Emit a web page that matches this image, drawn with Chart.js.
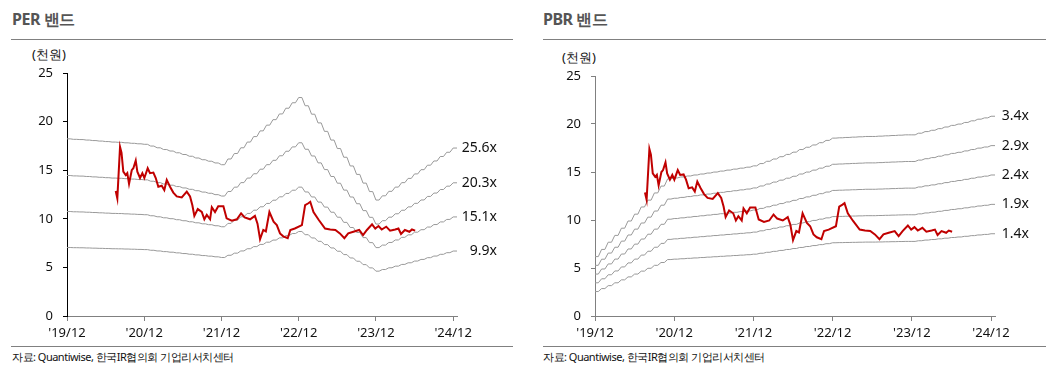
<!DOCTYPE html>
<html lang="ko">
<head>
  <meta charset="UTF-8">
  <title>PER / PBR 밴드</title>
  <script src="https://cdn.jsdelivr.net/npm/chart.js"></script>
  <style>
    body { margin: 0; background: #fff; font-family: "Noto Sans", sans-serif; }
    #page { position: relative; width: 1050px; height: 384px; overflow: hidden; }
    .title { position: absolute; top: 8px; font-size: 16px; font-weight: bold; color: #555; letter-spacing: -0.5px; }
    .rule { position: absolute; height: 1px; background: #808080; }
    .unit { position: absolute; font-size: 13px; color: #111; }
    .src { position: absolute; top: 349px; font-size: 11px; color: #111; letter-spacing: -0.5px; }
    .box { position: absolute; top: 45px; height: 300px; }
  </style>
</head>
<body>
<div id="page">
  <div class="title" style="left:12px">PER 밴드</div>
  <div class="rule" style="left:11px; top:39px; width:502px"></div>
  <div class="unit" style="left:32px; top:45px">(천원)</div>
  <div class="box" style="left:0; width:515px"><canvas id="perChart"></canvas></div>
  <div class="rule" style="left:11px; top:346px; width:502px"></div>
  <div class="src" style="left:12px">자료: Quantiwise, 한국IR협의회 기업리서치센터</div>

  <div class="title" style="left:543px">PBR 밴드</div>
  <div class="rule" style="left:543px; top:39px; width:503px"></div>
  <div class="unit" style="left:562px; top:48px">(천원)</div>
  <div class="box" style="left:530px; width:520px"><canvas id="pbrChart"></canvas></div>
  <div class="rule" style="left:543px; top:346px; width:503px"></div>
  <div class="src" style="left:543px">자료: Quantiwise, 한국IR협의회 기업리서치센터</div>
</div>

<script>
  // x = months since 2019/12
  const xTickMonths = [0, 12, 24, 36, 48, 60];
  const xTickLabels = ["'19/12", "'20/12", "'21/12", "'22/12", "'23/12", "'24/12"];

  const perMultiples = [25.6, 20.3, 15.1, 9.9];
  const pbrMultiples = [3.4, 2.9, 2.4, 1.9, 1.4];

  // monthly EPS / BPS (천원), '19/12 ~ '24/12
  const epsMonthly = [
    0.712, 0.710, 0.709, 0.707, 0.705, 0.703, 0.701, 0.699, 0.698, 0.696, 0.694, 0.692, 0.690,
    0.683, 0.676, 0.669, 0.663, 0.656, 0.649, 0.642, 0.635, 0.628, 0.622, 0.615, 0.608,
    0.631, 0.653, 0.676, 0.699, 0.721, 0.744, 0.767, 0.789, 0.812, 0.835, 0.857, 0.878,
    0.845, 0.811, 0.776, 0.742, 0.707, 0.673, 0.638, 0.603, 0.569, 0.534, 0.500, 0.466,
    0.483, 0.501, 0.518, 0.536, 0.553, 0.571, 0.588, 0.606, 0.623, 0.641, 0.658, 0.675
  ];
  const bpsMonthly = [
    1.82, 2.04, 2.26, 2.47, 2.69, 2.91, 3.12, 3.34, 3.55, 3.77, 3.98, 4.20,
    4.23, 4.26, 4.29, 4.32, 4.35, 4.38, 4.41, 4.44, 4.47, 4.50, 4.53, 4.56, 4.60,
    4.67, 4.74, 4.81, 4.88, 4.95, 5.02, 5.10, 5.17, 5.24, 5.31, 5.38, 5.45,
    5.46, 5.47, 5.48, 5.49, 5.50, 5.50, 5.51, 5.52, 5.53, 5.54, 5.55, 5.55,
    5.60, 5.65, 5.69, 5.74, 5.79, 5.84, 5.88, 5.93, 5.98, 6.03, 6.07, 6.12
  ];

  // 주가 (천원)
  const priceMonths = [
    7.57, 7.82, 8.24, 8.47, 8.75, 9.12, 9.37, 9.64, 10.06, 10.31, 10.68, 10.93, 11.35, 11.71, 12.02,
    12.54, 12.9, 13.42, 13.79, 14.19, 14.72, 15.12, 15.5, 16.01, 16.52, 17.05, 17.83, 18.61, 19.12,
    19.48, 19.79, 20.32, 20.94, 21.34, 21.72, 22.23, 22.5, 23.0, 23.5, 24.3, 24.8, 25.6, 26.4, 27.05,
    27.6, 28.45, 29.2, 29.6, 30.0, 30.5, 30.9, 31.45, 32.1, 32.6, 33.1, 33.6, 34.3, 34.7, 35.4, 36.5,
    37.0, 37.5, 37.8, 38.3, 39.1, 40.1, 40.9, 41.7, 42.4, 43.1, 43.7, 44.5, 45.4, 46.0, 46.6, 47.4,
    47.9, 48.4, 48.9, 49.6, 50.2, 51.0, 51.5, 51.9, 52.5, 53.2, 53.6, 54.1
  ];
  const priceValues = [
    12.86, 12.1, 17.4, 16.8, 14.85, 14.5, 14.7, 13.6, 15.0, 15.2, 16.0, 14.85, 14.2, 14.7, 14.2,
    15.2, 14.7, 14.75, 14.2, 13.3, 13.4, 12.96, 14.0, 13.3, 12.7, 12.3, 12.2, 12.8, 12.3,
    11.4, 10.3, 11.0, 10.7, 9.95, 10.4, 9.95, 11.2, 10.7, 11.3, 11.3, 10.05, 9.8, 9.95, 10.57,
    10.15, 9.95, 10.3, 9.5, 7.9, 8.85, 8.7, 10.7, 9.7, 9.35, 8.5, 8.2, 8.0, 8.85, 9.0, 9.35,
    11.4, 11.6, 11.75, 10.7, 9.9, 9.0, 8.9, 8.85, 8.5, 8.0, 8.5, 8.67, 8.85, 8.33, 8.85, 9.43,
    9.0, 9.26, 8.9, 9.19, 8.78, 8.9, 9.0, 8.44, 8.85, 8.67, 8.9, 8.78
  ];

  const X_MAX = 60.6;

  Chart.defaults.font.family = "'Noto Sans', sans-serif";
  Chart.defaults.font.size = 13;
  Chart.defaults.color = '#111';

  // monthly value held for half a month, then slides to the next one
  function stairs(base, k) {
    const pts = [];
    base.forEach((b, m) => {
      pts.push({ x: m, y: k * b });
      pts.push({ x: m === base.length - 1 ? X_MAX : m + 0.5, y: k * b });
    });
    return pts;
  }

  const bandLabels = {
    id: 'bandLabels',
    afterDatasetsDraw(chart, args, opts) {
      const ctx = chart.ctx;
      ctx.save();
      ctx.font = "14px 'Noto Sans', sans-serif";
      ctx.fillStyle = '#111';
      ctx.textAlign = 'right';
      ctx.textBaseline = 'middle';
      chart.data.datasets.forEach((ds, i) => {
        if (!ds.bandText) return;
        const pts = chart.getDatasetMeta(i).data;
        ctx.fillText(ds.bandText, opts.right, pts[pts.length - 1].y);
      });
      ctx.restore();
    }
  };

  function makeChart(id, base, multiples, o) {
    const datasets = [{
      data: priceMonths.map((m, i) => ({ x: m, y: priceValues[i] })),
      borderColor: '#c00000', borderWidth: 2, pointRadius: 0, tension: 0
    }];
    multiples.forEach(k => datasets.push({
      data: stairs(base, k), bandText: k.toFixed(1) + 'x',
      borderColor: '#999', borderWidth: 1, pointRadius: 0, tension: 0
    }));

    return new Chart(document.getElementById(id), {
      type: 'line',
      data: { datasets },
      plugins: [bandLabels],
      options: {
        responsive: true,
        maintainAspectRatio: false,
        animation: false,
        layout: { padding: { top: o.top, right: o.right, left: 0, bottom: 0 } },
        plugins: { legend: { display: false }, tooltip: { enabled: false }, bandLabels: { right: o.labelRight } },
        scales: {
          x: {
            type: 'linear', min: 0, max: X_MAX,
            afterBuildTicks: s => { s.ticks = xTickMonths.map(v => ({ value: v })); },
            afterFit: s => { s.height = 29; },
            ticks: { callback: v => xTickLabels[xTickMonths.indexOf(v)], padding: 4, maxRotation: 0, autoSkip: false },
            grid: { drawOnChartArea: false, tickLength: 5, tickColor: '#808080' },
            border: { color: '#808080' }
          },
          y: {
            min: 0, max: 25,
            afterFit: s => { s.width = o.yWidth; },
            ticks: { stepSize: 5, padding: 10 },
            grid: { drawOnChartArea: false, tickLength: 4, tickColor: o.yColor },
            border: { color: o.yColor }
          }
        }
      }
    });
  }

  makeChart('perChart', epsMonthly, perMultiples, { top: 28, right: 58, labelRight: 497, yWidth: 67, yColor: '#000' });
  makeChart('pbrChart', bpsMonthly, pbrMultiples, { top: 31, right: 55, labelRight: 499, yWidth: 65, yColor: '#808080' });
</script>
</body>
</html>
